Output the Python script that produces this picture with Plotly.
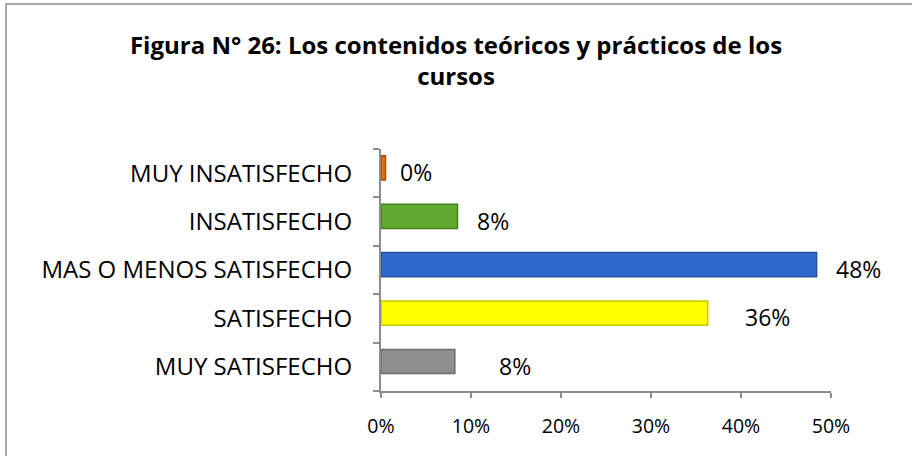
import plotly.graph_objects as go

categories = ["MUY SATISFECHO", "SATISFECHO", "MAS O MENOS SATISFECHO", "INSATISFECHO", "MUY INSATISFECHO"]
values = [8.2, 36.3, 48.4, 8.5, 0.5]
labels = ["8%", "36%", "48%", "8%", "0%"]
colors = ["#8f8f8f", "#ffff00", "#2f68cc", "#5ea92f", "#e46c0a"]
edge_colors = ["#6b6b6b", "#c8c800", "#24529f", "#45801f", "#a84f07"]
label_shift = [42, 35, 17, 17, 12]
x_ticks = [0, 10, 20, 30, 40, 50]
x_ticktext = ["0%", "10%", "20%", "30%", "40%", "50%"]

FONT = "'Open Sans', Lato, sans-serif"

W, H = 912, 456
L, R, T, B = 381, 81, 149, 65
PW, PH = W - L - R, H - T - B

fig = go.Figure()
fig.add_trace(go.Bar(
    y=categories, x=values, orientation="h",
    marker=dict(color=colors, line=dict(color=edge_colors, width=1.5)),
    width=0.5, offset=-0.14, hoverinfo="skip",
))

for c, v, t, s in zip(categories, values, labels, label_shift):
    fig.add_annotation(x=v, y=c, text=t, showarrow=False, xanchor="left",
                       xshift=s, yshift=1, font=dict(family=FONT, size=23, color="#000"))

fig.add_shape(type="rect", xref="paper", yref="paper",
              x0=-(L - 6) / PW, x1=1 + (R + 20) / PW,
              y0=-(B + 20) / PH, y1=1 + (T - 4) / PH,
              line=dict(color="#8c8c8c", width=1.5), fillcolor="rgba(0,0,0,0)", layer="below")

fig.update_layout(
    width=W, height=H,
    margin=dict(l=L, r=R, t=T, b=B),
    paper_bgcolor="white", plot_bgcolor="white",
    title=dict(text="<b>Figura N° 26: Los contenidos teóricos y prácticos de los<br>cursos</b>",
               x=0.5, xanchor="center", y=1 - 54 / H, yanchor="top",
               font=dict(family=FONT, size=24, color="#000")),
    showlegend=False,
    xaxis=dict(range=[0, 50], tickvals=x_ticks, ticktext=x_ticktext,
               showgrid=False, zeroline=False, showline=True, linecolor="#8c8c8c", linewidth=2,
               ticks="outside", ticklen=5, tickcolor="#8c8c8c", tickwidth=1.5,
               ticklabelstandoff=12,
               tickfont=dict(family=FONT, size=19.5, color="#000"), fixedrange=True),
    yaxis=dict(showgrid=False, zeroline=False, showline=True, linecolor="#8c8c8c", linewidth=2,
               ticks="outside", ticklen=6, tickcolor="#8c8c8c", tickwidth=1.5,
               tickson="boundaries", ticklabelstandoff=22,
               tickfont=dict(family=FONT, size=24, color="#000"), fixedrange=True),
)

fig.write_html("out.html", config={"displayModeBar": False},
               post_script="document.body.style.margin='0';")
